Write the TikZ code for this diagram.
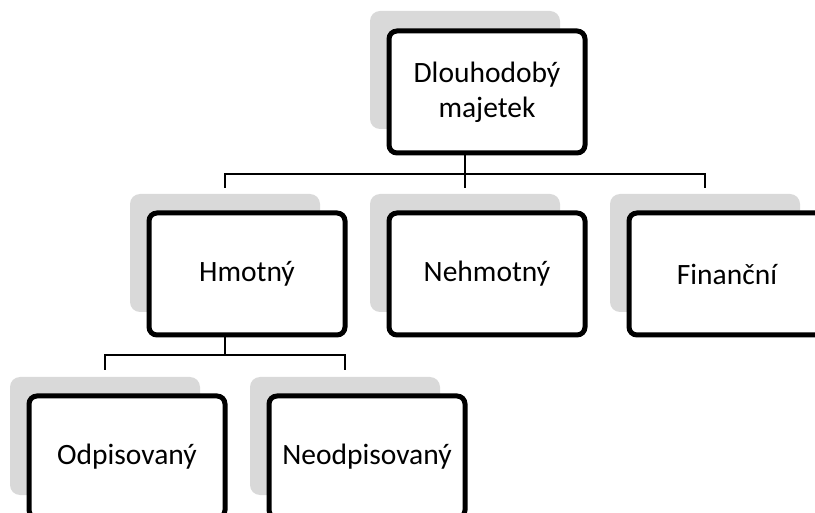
\documentclass[tikz,border=0pt]{standalone}
\usepackage{fontspec}
\setmainfont{Carlito}

\definecolor{shadegray}{HTML}{D9D9D9}

\tikzset{
  backbox/.style={fill=shadegray, rounded corners=10pt, minimum width=190pt,
    minimum height=118pt, inner sep=0pt},
  frontbox/.style={draw=black, line width=5pt, fill=white, rounded corners=8pt,
    minimum width=196pt, minimum height=122pt, inner sep=0pt, align=center,
    font=\fontsize{29.5}{35}\selectfont},
  link/.style={line width=1.5pt}
}

\begin{document}
\begin{tikzpicture}[x=1pt,y=1pt]

\useasboundingbox (0,0) rectangle (815,-513);
\clip (0,0) rectangle (815,-513);

% Koren
\node[backbox] (dmBg) at (465,-70) {};

% Druha uroven
\node[backbox] (hmBg) at (225,-253) {};
\node[backbox] (neBg) at (465,-253) {};
\node[backbox] (fiBg) at (705,-253) {};

% Treti uroven
\node[backbox] (odBg) at (105,-436) {};
\node[backbox] (noBg) at (345,-436) {};

% Spojnice
\draw[link] (dmBg.center |- 0,-153) -- ++(0,-21) -| ([yshift=6pt]hmBg.north);
\draw[link] (dmBg.center |- 0,-153) -- ++(0,-21) -| ([yshift=6pt]neBg.north);
\draw[link] (dmBg.center |- 0,-153) -- ++(0,-21) -| ([yshift=6pt]fiBg.north);
\draw[link] (hmBg.center |- 0,-335) -- ++(0,-20) -| ([yshift=7pt]odBg.north);
\draw[link] (hmBg.center |- 0,-335) -- ++(0,-20) -| ([yshift=7pt]noBg.north);

% Popisky
\node[frontbox] (dm) at ([shift={(22,-22)}]dmBg.center) {Dlouhodobý\\majetek};
\node[frontbox] (hm) at ([shift={(22,-21)}]hmBg.center) {Hmotný};
\node[frontbox] (ne) at ([shift={(22,-21)}]neBg.center) {Nehmotný};
\node[frontbox] (fi) at ([shift={(22,-21)}]fiBg.center) {Finanční};
\node[frontbox] (od) at ([shift={(22,-21)}]odBg.center) {Odpisovaný};
\node[frontbox] (no) at ([shift={(22,-21)}]noBg.center) {Neodpisovaný};

\end{tikzpicture}
\end{document}
